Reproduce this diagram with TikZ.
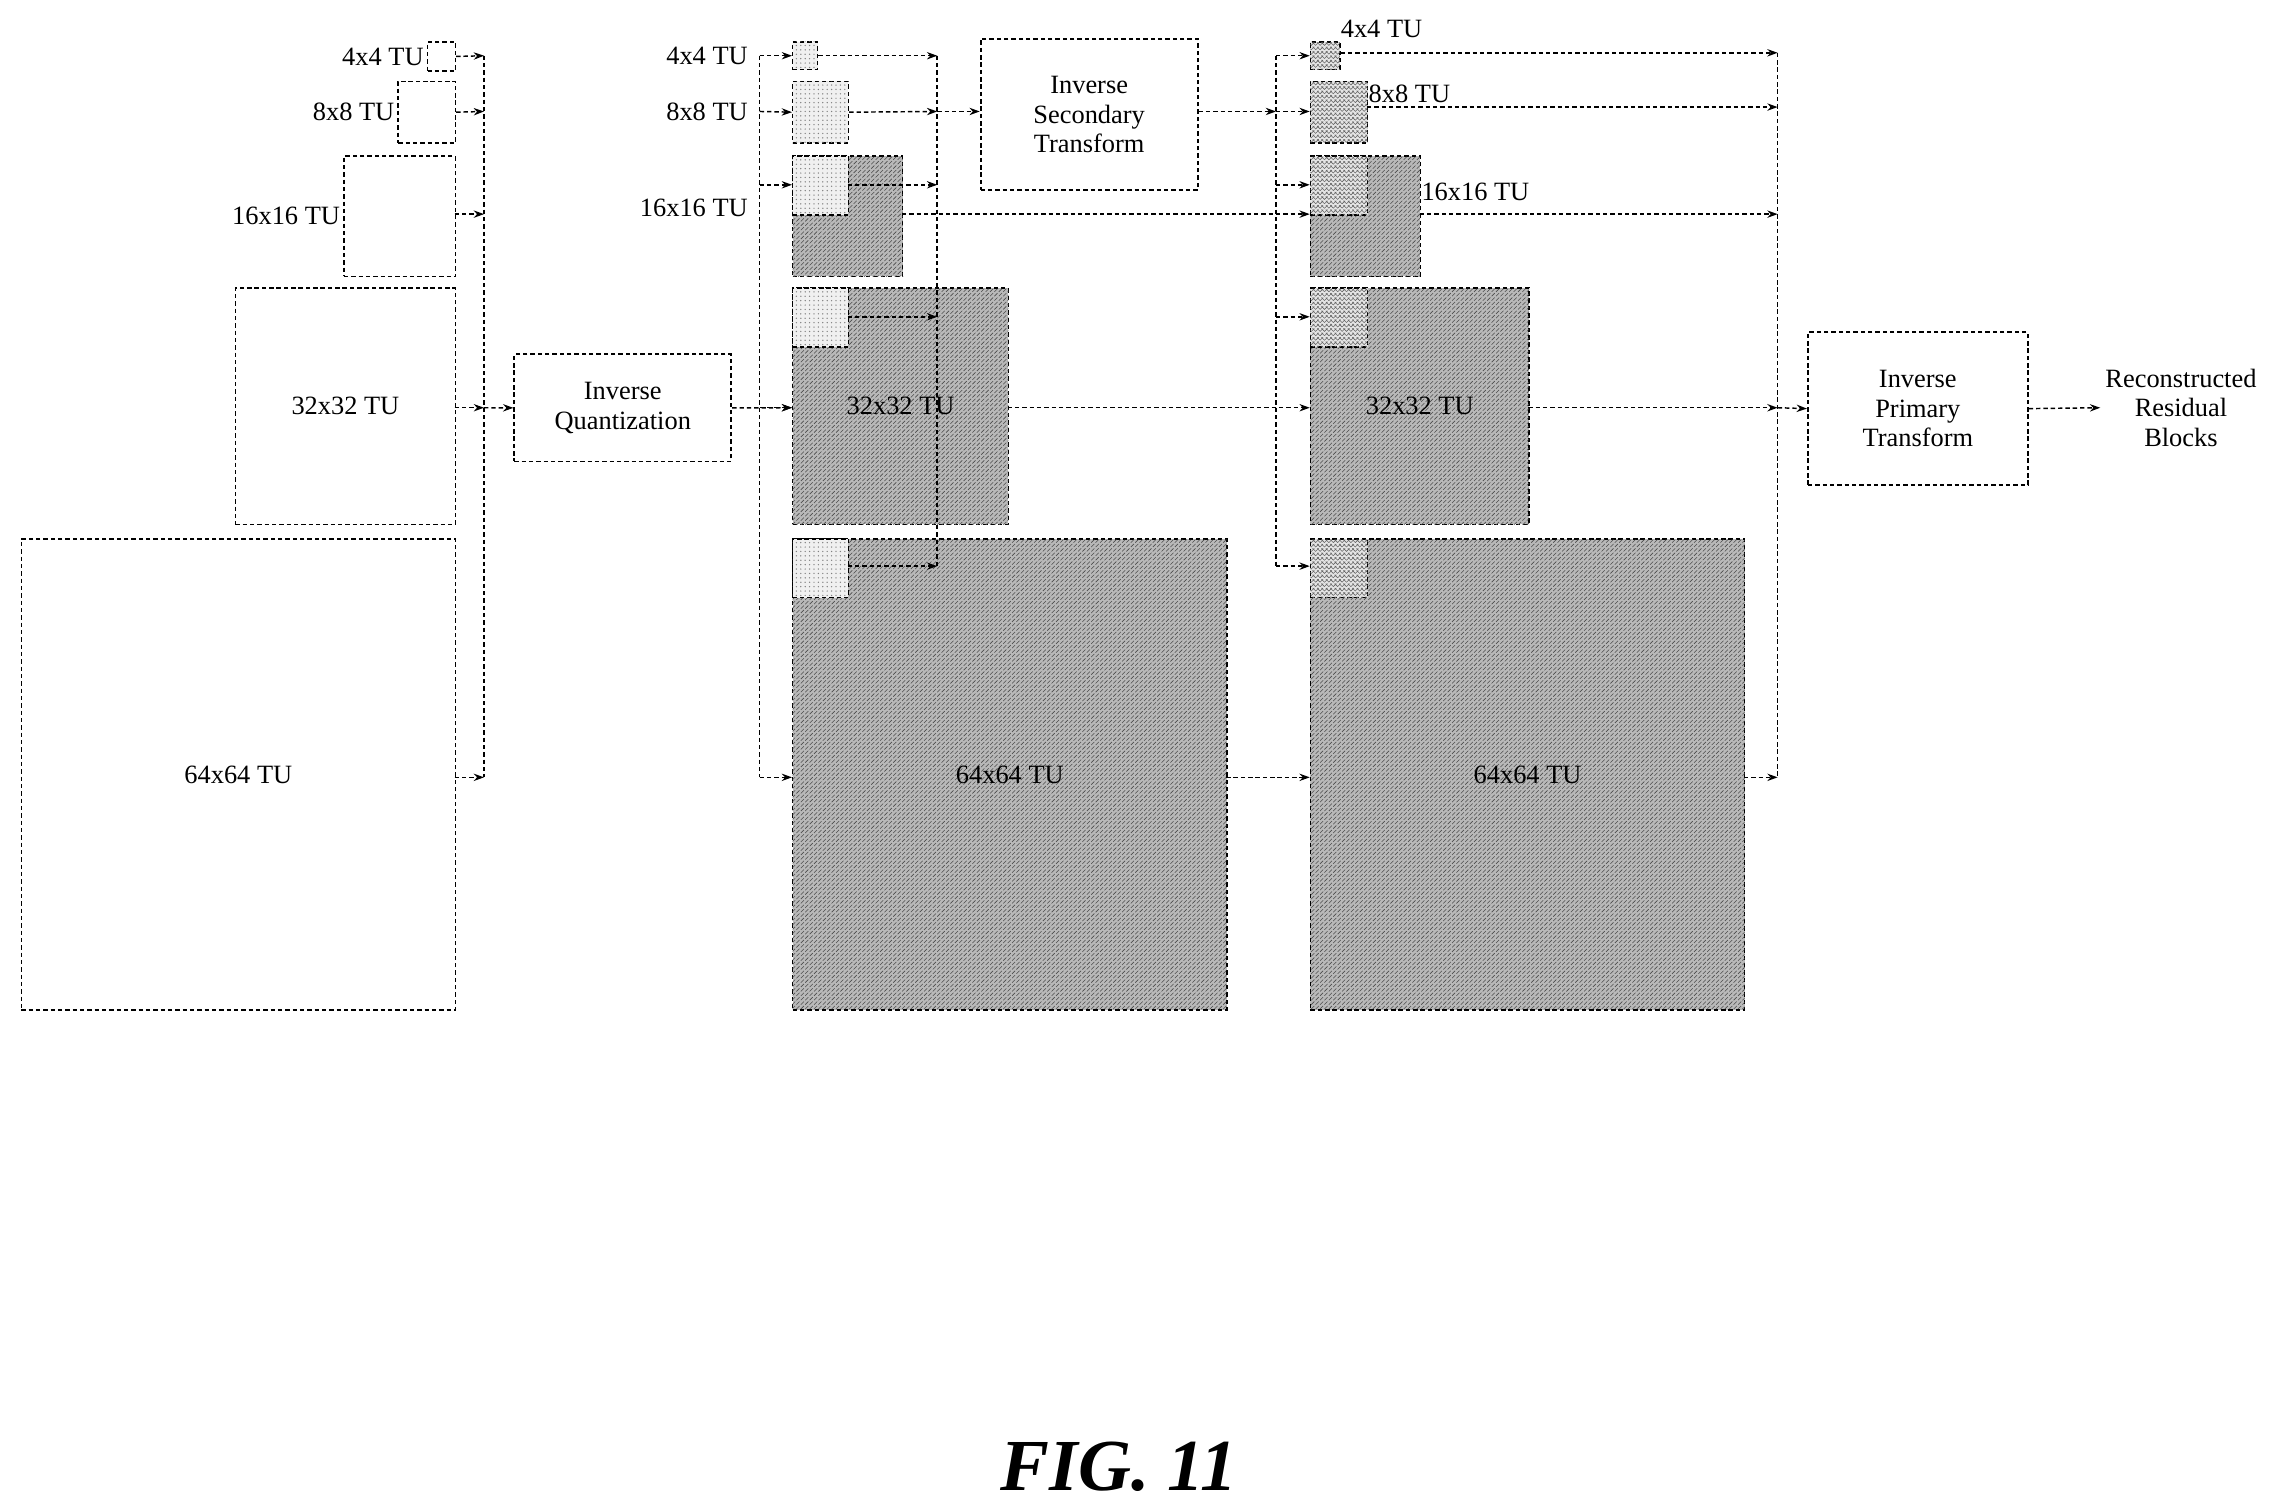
\documentclass[tikz,border=0pt]{standalone}
\usepackage{fontspec}
\setmainfont{Liberation Serif}
\usetikzlibrary{arrows.meta,patterns}
\begin{document}
\begin{tikzpicture}[x=1pt,y=-1pt,
 font=\fontsize{18}{20}\selectfont,
 ln/.style={densely dashed,line width=1pt},
 ar/.style={ln,-{Stealth[length=7pt,width=5pt]}},
 tu/.style={draw,densely dashed,line width=1pt,inner sep=0,anchor=north west},
 wb/.style={tu},
 mb/.style={tu,fill=gray!55,postaction={pattern=north east lines,pattern color=black!70}},
 lb/.style={tu,fill=gray!12,postaction={pattern=dots,pattern color=gray}},
 cb/.style={tu,fill=gray!20,postaction={pattern=crosshatch,pattern color=black!60}},
 proc/.style={draw,densely dashed,line width=1.2pt,align=center,inner sep=4pt,anchor=north west},
 lab/.style={anchor=east,inner sep=2pt}]
\useasboundingbox (0,0) rectangle (1560,1030);
% left column
\node[wb,minimum width=19,minimum height=20] (l4) at (291,28) {};
\node[wb,minimum width=39,minimum height=42] (l8) at (271,55) {};
\node[wb,minimum width=76,minimum height=82] (l16) at (234,106) {};
\node[wb,minimum width=150,minimum height=161] (l32) at (160,196) {32x32 TU};
\node[wb,minimum width=296,minimum height=321] (l64) at (14,367) {64x64 TU};
\node[lab] (t4) at (l4.west) {4x4 TU};
\node[lab] (t8) at (l8.west) {8x8 TU};
\node[lab] (t16) at (l16.west) {16x16 TU};
\coordinate (b1t) at (330,38);
\coordinate (b1b) at (330,530);
\draw[ln] (b1t) -- (b1b);
\draw[ar] (l4.east) -- (b1t);
\draw[ar] (l8.east) -- (330,76);
\draw[ar] (310,146) -- (330,146);
\draw[ar] (310,278) -- (330,278);
\draw[ar] (310,530) -- (b1b);
\node[proc,minimum width=148,minimum height=73] (iq) at (350,241) {Inverse\\Quantization};
\draw[ar] (330,278) -- (iq.west);
% middle column
\coordinate (b2t) at (518,38);
\coordinate (b2b) at (518,530);
\draw[ln] (b2t) -- (b2b);
\draw[ar] (iq.east) -- (540,278);
\node[lb,minimum width=17,minimum height=19] (m4) at (540,28) {};
\node[lb,minimum width=38,minimum height=42] (m8) at (540,55) {};
\node[mb,minimum width=75,minimum height=82] (m16) at (540,106) {};
\node[lb,minimum width=38,minimum height=40] (m16s) at (540,106) {};
\node[mb,minimum width=147,minimum height=161] (m32) at (540,196) {};
\node[lb,minimum width=38,minimum height=40] (m32s) at (540,196) {};
\node[mb,minimum width=296,minimum height=321] (m64) at (540,367) {};
\node[lb,minimum width=38,minimum height=40] (m64s) at (540,367) {};
\node at (m32.center) {32x32 TU};
\node at (m64.center) {64x64 TU};
\node[lab] (u4) at (512,38) {4x4 TU};
\node[lab] (u8) at (512,76) {8x8 TU};
\node[lab] (u16) at (512,142) {16x16 TU};
\draw[ar] (b2t) -- (m4.west);
\draw[ar] (518,76) -- (m8.west);
\draw[ar] (518,126) -- (540,126);
\draw[ar] (518,278) -- (540,278);
\draw[ar] (b2b) -- (540,530);
% collector line
\coordinate (c1t) at (639,38);
\coordinate (c1b) at (639,386);
\draw[ln] (c1t) -- (c1b);
\draw[ar] (m4.east) -- (c1t);
\draw[ar] (m8.east) -- (639,76);
\draw[ar] (578,126) -- (639,126);
\draw[ar] (578,216) -- (639,216);
\draw[ar] (578,386) -- (c1b);
\node[proc,minimum width=148,minimum height=103] (ist) at (668,26) {Inverse\\Secondary\\Transform};
\draw[ar] (639,76) -- (ist.west |- 0,76);
\coordinate (c2t) at (870,38);
\coordinate (c2b) at (870,386);
\draw[ar] (ist.east |- 0,76) -- (870,76);
\draw[ln] (c2t) -- (c2b);
% right column
\node[cb,minimum width=20,minimum height=19] (r4) at (893,28) {};
\node[cb,minimum width=39,minimum height=42] (r8) at (893,55) {};
\node[mb,minimum width=75,minimum height=82] (r16) at (893,106) {};
\node[cb,minimum width=39,minimum height=40] (r16s) at (893,106) {};
\node[mb,minimum width=149,minimum height=161] (r32) at (893,196) {};
\node[cb,minimum width=39,minimum height=40] (r32s) at (893,196) {};
\node[mb,minimum width=296,minimum height=321] (r64) at (893,367) {};
\node[cb,minimum width=39,minimum height=40] (r64s) at (893,367) {};
\node at (r32.center) {32x32 TU};
\node at (r64.center) {64x64 TU};
\node[anchor=west,inner sep=1pt] (v4) at (913,20) {4x4 TU};
\node[anchor=west,inner sep=1pt] (v8) at (932,64) {8x8 TU};
\node[anchor=west,inner sep=1pt] (v16) at (968,131) {16x16 TU};
\draw[ar] (c2t) -- (r4.west);
\draw[ar] (870,76) -- (893,76);
\draw[ar] (870,126) -- (893,126);
\draw[ar] (870,216) -- (893,216);
\draw[ar] (c2b) -- (893,386);
% direct paths
\draw[ar] (615,146) -- (893,146);
\draw[ar] (687,278) -- (893,278);
\draw[ar] (836,530) -- (893,530);
% right bus
\coordinate (b3t) at (1212,36);
\coordinate (b3b) at (1212,530);
\draw[ln] (b3t) -- (b3b);
\draw[ar] (r4.east |- 0,36) -- (b3t);
\draw[ar] (932,73) -- (1212,73);
\draw[ar] (968,146) -- (1212,146);
\draw[ar] (1042,278) -- (1212,278);
\draw[ar] (1189,530) -- (b3b);
\node[proc,minimum width=150,minimum height=104] (ipt) at (1232,226) {Inverse\\Primary\\Transform};
\draw[ar] (1212,278) -- (ipt.west);
\node[align=center] (rr) at (1487,278) {Reconstructed\\Residual\\Blocks};
\draw[ar] (ipt.east) -- (rr.west);
\node[font=\fontsize{50}{54}\selectfont\bfseries\itshape] (fig) at (763,1000) {FIG. 11};
\end{tikzpicture}
\end{document}
